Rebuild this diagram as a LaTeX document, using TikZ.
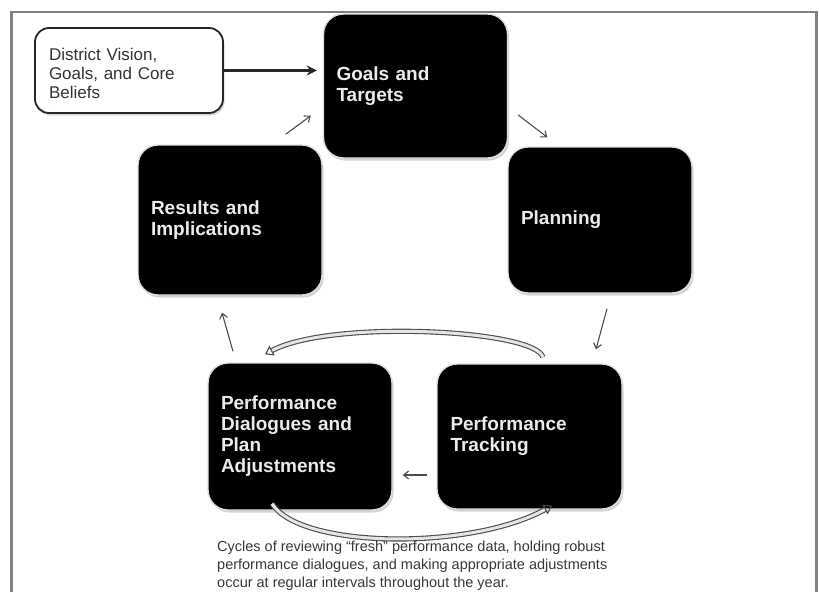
\documentclass[tikz,border=0pt]{standalone}
\usepackage{fontspec}
\setmainfont{Liberation Sans}
\usetikzlibrary{arrows.meta,positioning,calc,shadows}

\begin{document}
\begin{tikzpicture}[x=1pt,y=-1pt,
  stage/.style={draw=black!12,line width=1.4pt,fill=black,rounded corners=20pt,minimum width=184pt,minimum height=146pt,text width=158pt,align=left,inner xsep=13pt,font=\fontsize{19}{21}\selectfont\bfseries,text=black!8,drop shadow={shadow xshift=1.5pt,shadow yshift=-2.5pt,opacity=.35}},
  vision/.style={draw=black!85,line width=1.8pt,fill=white,rounded corners=14pt,minimum width=188pt,minimum height=85pt,text width=160pt,align=left,inner xsep=14pt,font=\fontsize{17}{19}\selectfont,text=black!80,drop shadow={shadow xshift=1.5pt,shadow yshift=-2.5pt,opacity=.3}},
  arr/.style={-{Straight Barb[length=5pt,width=8pt]},line width=1.1pt,black!70},
  feed/.style={-{Stealth[length=10pt,width=10pt]},line width=2.4pt,black!85},
  cyc/.style={draw=black!70,line width=1.1pt,double=black!10,double distance=3pt,-{Triangle[open,length=8pt,width=11pt]}},
  frame/.style={draw=black!50,line width=2.8pt},
  note/.style={align=left,inner sep=0pt,font=\fontsize{14.5}{18}\selectfont,text=black!78}]
\useasboundingbox (0,0) rectangle (819,592);
\draw[frame] (11.5,592) -- (11.5,12) -- (816.5,12) -- (816.5,592);

% the five stages of the cycle
\node[stage,minimum width=183pt,minimum height=144pt] (goals) at (415.5,86) {Goals and\\Targets};
\node[stage] (plan) at (600,220) {Planning};
\node[stage,minimum width=185pt,minimum height=145pt] (track) at (529.5,436.5) {Performance\\Tracking};
\node[stage,minimum height=147pt] (dial) at (300,436.5) {Performance\\Dialogues and\\Plan\\Adjustments};
\node[stage,minimum height=150pt] (results) at (230,220) {Results and\\Implications};

\node[vision] (vision) at (129,70.5) {\rule{0pt}{18pt}District Vision,\\Goals, and Core\\Beliefs};
\draw[feed] (vision.east) -- (vision.east -| goals.west) [shorten >=6pt];

% steps between stages
\draw[arr] ($(results.north east)+(-37,-10)$) -- ($(goals.south west)+(-12,-43)$);
\draw[arr] ($(goals.east)+(10,29)$) -- ($(plan.north west)+(40,-9)$);
\draw[arr] ($(plan.south)+(7,15)$) -- ($(track.north)+(66.5,-14)$);
\draw[arr] ($(track.west)+(-9,38.5)$) -- ($(dial.east)+(10,38.5)$);
\draw[arr] ($(dial.north)+(-67,-11)$) -- ($(results.south)+(-8,17)$);

% inner loop between tracking and dialogues
\draw[cyc] ($(track.north)+(13.5,-6)$) .. controls ($(track.north)+(5.5,-34)$) and ($(dial.north)+(30,-43)$) .. ($(dial.north)+(-35,-8)$);
\draw[cyc] ($(dial.south)+(-28,-7)$) .. controls ($(dial.south)+(0,38)$) and ($(track.south)+(-59.5,41)$) .. ($(track.south)+(22.5,-4)$);

\node[note,anchor=north west] (note) at (217,541) {Cycles of reviewing ``fresh'' performance data, holding robust\\performance dialogues, and making appropriate adjustments\\occur at regular intervals throughout the year.};
\end{tikzpicture}
\end{document}
